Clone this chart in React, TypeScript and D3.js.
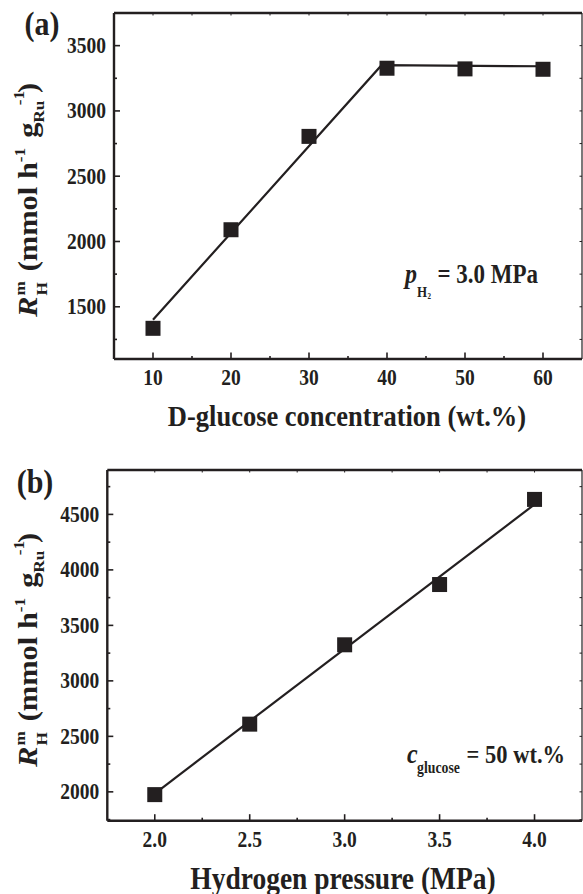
import React from "react";
import * as d3 from "d3";

// ---------- data ----------
const concA = [10, 20, 30, 40, 50, 60];
const rateA = [1335, 2090, 2805, 3327, 3322, 3319];
const fitAx = [10, 39.3, 60];
const fitAy = [1400, 3350, 3342];
const xTicksA = [10, 20, 30, 40, 50, 60];
const yTicksA = [1500, 2000, 2500, 3000, 3500];

const pressB = [2.0, 2.5, 3.0, 3.5, 4.0];
const rateB = [1975, 2610, 3325, 3868, 4635];
const fitBx = [2.0, 4.0];
const fitBy = [1985, 4590];
const xTicksB = [2.0, 2.5, 3.0, 3.5, 4.0];
const yTicksB = [2000, 2500, 3000, 3500, 4000, 4500];

const INK = "#231f20";
const FONT = "'Liberation Serif', 'Times New Roman', serif";
const SY = 1.15;

function T({ x, y, size, anchor = "middle", children, italic = false }: any) {
  return (
    <text
      transform={`translate(${x},${y}) scale(1,${SY})`}
      fontSize={size}
      fontFamily={FONT}
      fontWeight="bold"
      fontStyle={italic ? "italic" : "normal"}
      textAnchor={anchor}
      fill={INK}
    >
      {children}
    </text>
  );
}

function YTitle({ x, y }: any) {
  return (
    <text
      transform={`translate(${x},${y}) scale(1,${SY}) rotate(-90)`}
      fontSize={26.5}
      fontFamily={FONT}
      fontWeight="bold"
      textAnchor="middle"
      fill={INK}
    >
      <tspan fontStyle="italic">R</tspan>
      <tspan fontSize={15} dy={10} dx={1}>H</tspan>
      <tspan fontSize={15} dx={-11.7} dy={-22}>m</tspan>
      <tspan dy={12} dx={2}> (mmol h</tspan>
      <tspan fontSize={15} dy={-12}>-1</tspan>
      <tspan dy={12} dx={2}> g</tspan>
      <tspan fontSize={15} dy={7}>Ru</tspan>
      <tspan fontSize={15} dx={-4} dy={-20}>-1</tspan>
      <tspan dy={13} dx={-2}>)</tspan>
    </text>
  );
}

function Panel({
  xs, ys, fx, fy, xDomain, yDomain, left, right, top, bottom,
  xTicks, yTicks, xMinorStep, yMinorStep, xFmt,
}: any) {
  const x = d3.scaleLinear().domain(xDomain).range([left, right]);
  const y = d3.scaleLinear().domain(yDomain).range([bottom, top]);
  const line = d3.line<number>().x((_, i) => x(fx[i])).y((d) => y(d));
  const xMinor = d3.range(xDomain[0], xDomain[1] + 1e-9, xMinorStep).filter(
    (v: number) => v > xDomain[0] + 1e-9 && v < xDomain[1] - 1e-9
  );
  const yMinor = d3.range(Math.ceil(yDomain[0] / yMinorStep) * yMinorStep, yDomain[1], yMinorStep);
  const isMajorX = (v: number) => xTicks.some((t: number) => Math.abs(t - v) < 1e-6);
  const isMajorY = (v: number) => yTicks.some((t: number) => Math.abs(t - v) < 1e-6);
  return (
    <g>
      {xMinor.map((v: number, i: number) => (
        <line key={"bx" + i} x1={x(v)} x2={x(v)} y1={bottom} y2={bottom - (isMajorX(v) ? 6.5 : 3)} stroke={INK} strokeWidth={1.6} />
      ))}
      {xMinor.map((v: number, i: number) => (
        <line key={"tx" + i} x1={x(v)} x2={x(v)} y1={top} y2={top + 2.5} stroke={INK} strokeWidth={1} />
      ))}
      {yMinor.map((v: number, i: number) => (
        <line key={"ly" + i} x1={left} x2={left + (isMajorY(v) ? 6 : 3)} y1={y(v)} y2={y(v)} stroke={INK} strokeWidth={1.6} />
      ))}
      {yMinor.map((v: number, i: number) => (
        <line key={"ry" + i} x1={right} x2={right - 2.5} y1={y(v)} y2={y(v)} stroke={INK} strokeWidth={1} />
      ))}
      <path d={`M${left},${top}H${right}`} stroke={INK} strokeWidth={2.4} />
      <path d={`M${left},${bottom}H${right}`} stroke={INK} strokeWidth={2.4} />
      <path d={`M${left},${top}V${bottom}`} stroke={INK} strokeWidth={2.4} />
      <path d={`M${right},${top}V${bottom}`} stroke={INK} strokeWidth={1.2} />
      {xTicks.map((v: number, i: number) => (
        <T key={"xl" + i} x={x(v)} y={bottom + 26} size={19.5}>{xFmt(v)}</T>
      ))}
      {yTicks.map((v: number, i: number) => (
        <T key={"yl" + i} x={left - 8} y={y(v) + 7.5} size={19.5} anchor="end">{v}</T>
      ))}
      <path d={line(fy) || ""} fill="none" stroke={INK} strokeWidth={2.2} />
      {xs.map((v: number, i: number) => (
        <rect key={"m" + i} x={x(v) - 7.5} y={y(ys[i]) - 7.5} width={15} height={15} fill={INK} />
      ))}
    </g>
  );
}

export default function App() {
  return (
    <svg
      width={583}
      height={894}
      style={{ position: "absolute", left: 0, top: 0, background: "#fff" }}
    >
      <rect width={583} height={894} fill="#fff" />
      {/* Panel (a) */}
      <Panel
        xs={concA} ys={rateA} fx={fitAx} fy={fitAy}
        xDomain={[5, 65]} yDomain={[1100, 3750]}
        left={114} right={582} top={13} bottom={359}
        xTicks={xTicksA} yTicks={yTicksA} xMinorStep={5} yMinorStep={250}
        xFmt={(v: number) => String(v)}
      />
      <T x={42} y={35} size={30}>(a)</T>
      <YTitle x={37} y={200} />
      <T x={347} y={426} size={26.5}>D-glucose concentration (wt.%)</T>
      <T x={405} y={283} size={24} anchor="start" italic>p</T>
      <T x={417} y={297} size={13} anchor="start">H</T>
      <T x={427.5} y={299} size={7} anchor="start">2</T>
      <T x={538} y={283} size={23} anchor="end">= 3.0 MPa</T>

      {/* Panel (b) */}
      <Panel
        xs={pressB} ys={rateB} fx={fitBx} fy={fitBy}
        xDomain={[1.75, 4.25]} yDomain={[1740, 4900]}
        left={107.3} right={582} top={470} bottom={820.7}
        xTicks={xTicksB} yTicks={yTicksB} xMinorStep={0.25} yMinorStep={250}
        xFmt={(v: number) => v.toFixed(1)}
      />
      <T x={35} y={493} size={30}>(b)</T>
      <YTitle x={37} y={650} />
      <T x={343} y={889} size={27.5}>Hydrogen pressure (MPa)</T>
      <T x={407} y={763} size={24} anchor="start" italic>c</T>
      <T x={417} y={773} size={13.8} anchor="start">glucose</T>
      <T x={565} y={763} size={22.5} anchor="end">= 50 wt.%</T>
    </svg>
  );
}
